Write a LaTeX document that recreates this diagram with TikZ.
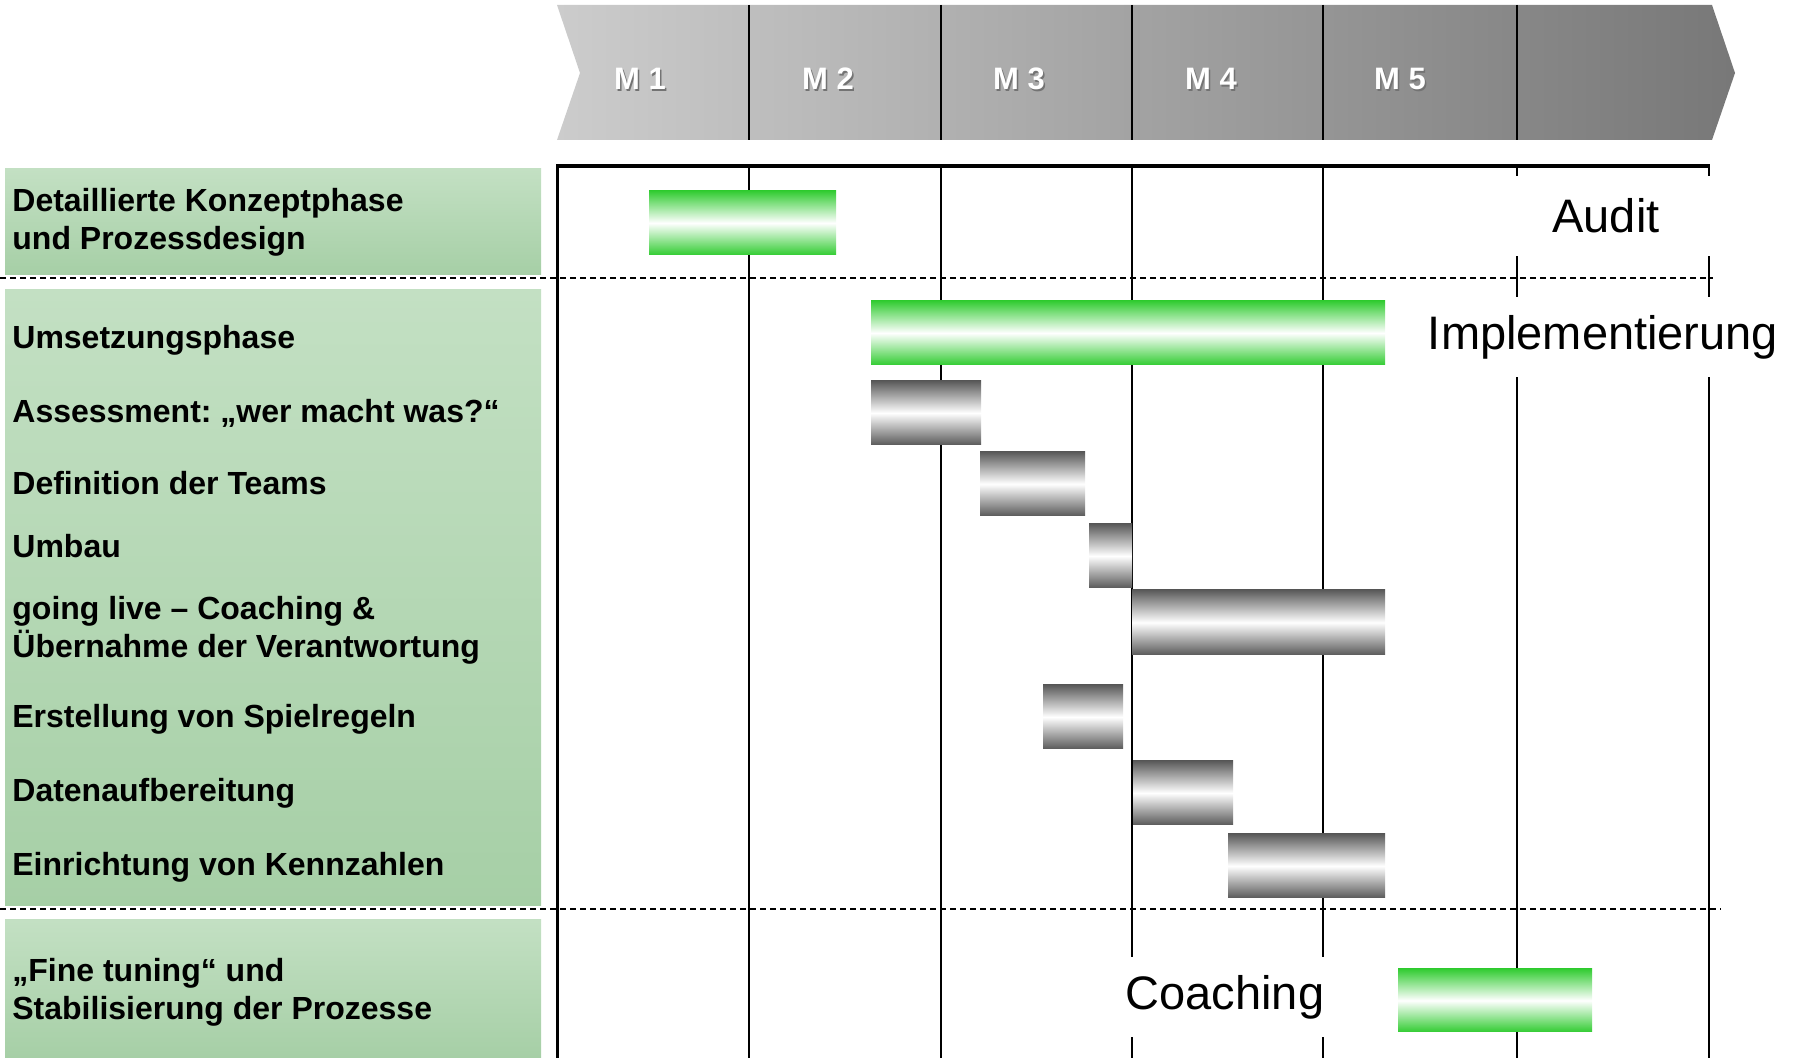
\documentclass[tikz,border=0pt]{standalone}
\usepackage{fontspec}
\setmainfont{Liberation Sans}
\usepackage{xcolor}
\usepackage{tikz}
\usetikzlibrary{positioning}
\frenchspacing

\definecolor{barGreen}{RGB}{51,204,51}
\definecolor{barGray}{RGB}{90,90,90}
\definecolor{panelTop}{RGB}{195,224,195}
\definecolor{panelBot}{RGB}{166,207,166}

\tikzset{
  tasklbl/.style={anchor=west, align=left, inner sep=0pt,
    font=\bfseries\fontsize{16}{19}\selectfont},
  panelfill/.style={top color=panelTop, bottom color=panelBot},
  greenbar/.style={top color=barGreen, bottom color=barGreen, middle color=white},
  graybar/.style={top color=barGray, bottom color=barGray, middle color=white},
  monthlbl/.style={font=\bfseries\fontsize{15.5}{18}\selectfont, inner sep=0pt},
  barlbl/.style={fill=white, font=\fontsize{23.5}{28}\selectfont,
    minimum height=40pt, inner xsep=4pt, inner ysep=0pt},
  phasesep/.style={dash pattern=on 3pt off 2pt, line width=1.2pt},
  colline/.style={line width=1.2pt}
}

\begin{document}
\begin{tikzpicture}[x=0.5pt, y=-0.5pt]
    \useasboundingbox (0,0) rectangle (1796,1058);
    % month band
    \shade[left color=black!20, right color=black!53] (557,5) -- (1712,5)
        -- (1735,73) -- (1712,140) -- (557,140) -- (580,73) -- cycle;
    \foreach \x in {749,941,1132,1323,1517}
        \draw[line width=1pt] (\x,5) -- (\x,140);
    \foreach \x/\m in {640/1, 828/2, 1019/3, 1211/4, 1400/5}{
        \node[monthlbl, text=black!55] (m\m s) at (\x+1.5,80.5) {M \m};
        \node[monthlbl, text=white] (m\m) at (\x,79) {M \m};
    }
    % phase panels
    \shade[panelfill] (5,169) rectangle (541,275);
    \shade[panelfill] (5,290) rectangle (541,906);
    \shade[panelfill] (5,920) rectangle (541,1058);
    % chart grid
    \foreach \x in {557.5,749,941,1132,1323,1517,1709}
        \draw[colline] (\x,166) -- (\x,1058);
    \draw[line width=1.6pt] (556,166) -- (1710,166);
    \draw[phasesep] (0,278) -- (1713,278);
    \draw[phasesep] (0,909) -- (1721,909);
    % labels in the chart
    \node[barlbl, minimum width=110pt] (audit) at (1606,216) {Audit};
    \node[barlbl] (impl) at (1603,337) {Implementierung};
    \node[barlbl] (coach) at (1225,997) {Coaching};
    % bars
    \foreach \a/\b/\c/\d in {649/191/836/255, 871/301/1385/365, 1398/969/1592/1032}
        \shade[greenbar] (\a,\b) rectangle (\c,\d);
    \foreach \a/\b/\c/\d in {871/381/981/445, 980/452/1085/516, 1089/524/1132/588,
        1132/590/1385/655, 1043/685/1123/749, 1133/761/1233/825, 1228/834/1385/898}
        \shade[graybar] (\a,\b) rectangle (\c,\d);
    % task names
    \node[tasklbl] (konzept) at (12,222) {Detaillierte Konzeptphase\\und Prozessdesign};
    \node[tasklbl] (umsetzung) at (12,340.5) {Umsetzungsphase};
    \node[tasklbl] (assess) at (12,413.5) {Assessment: „wer macht was?“};
    \node[tasklbl] (teams) at (12,483.5) {Definition der Teams};
    \node[tasklbl] (umbau) at (12,546.5) {Umbau};
    \node[tasklbl] (live) at (12,630) {going live – Coaching \&\\Übernahme der Verantwortung};
    \node[tasklbl] (regeln) at (12,719.5) {Erstellung von Spielregeln};
    \node[tasklbl] (daten) at (12,793.5) {Datenaufbereitung};
    \node[tasklbl] (kennz) at (12,867.5) {Einrichtung von Kennzahlen};
    \node[tasklbl] (tuning) at (12,992) {„Fine tuning“ und\\Stabilisierung der Prozesse};
\end{tikzpicture}
\end{document}
